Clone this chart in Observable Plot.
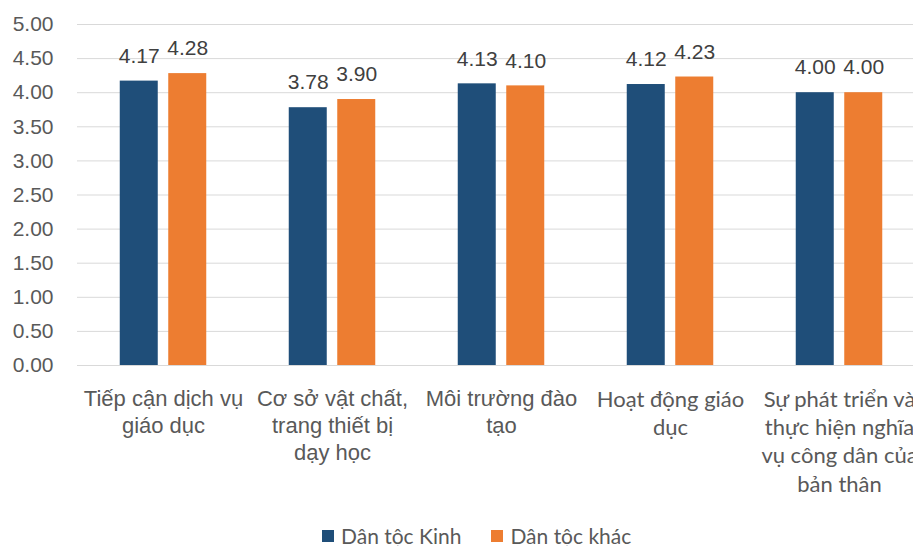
<!DOCTYPE html>
<html>
<head>
<meta charset="utf-8">
<script src="https://cdn.jsdelivr.net/npm/d3@7"></script>
<script src="https://cdn.jsdelivr.net/npm/@observablehq/plot@0.6"></script>
<style>
  html, body { margin: 0; padding: 0; background: white; overflow: hidden; }
  #chart { position: relative; width: 913px; height: 546px; }
  .legend { position: absolute; left: 322px; top: 526px; display: flex; align-items: center;
            font-family: Lato, sans-serif; font-size: 21px; line-height: 20px; color: #595959; }
  .legend .item { display: flex; align-items: center; margin-right: 30px; }
  .legend .sw { width: 12px; height: 12px; margin-right: 7px; }
  .legend .lbl { display: block; height: 20px; line-height: 20px; }
</style>
</head>
<body>
<div id="chart"></div>
<script>
const categories = [
  "Tiếp cận dịch vụ giáo dục",
  "Cơ sở vật chất, trang thiết bị dạy học",
  "Môi trường đào tạo",
  "Hoạt động giáo dục",
  "Sự phát triển và thực hiện nghĩa vụ công dân của bản thân"
];
const tickLabels = [
  "Tiếp cận dịch vụ\ngiáo dục",
  "Cơ sở vật chất,\ntrang thiết bị\ndạy học",
  "Môi trường đào\ntạo",
  "Hoạt động giáo\ndục",
  "Sự phát triển và\nthực hiện nghĩa\nvụ công dân của\nbản thân"
];
const seriesNames = ["Dân tộc Kinh", "Dân tộc khác"];
const kinh = [4.17, 3.78, 4.13, 4.12, 4.00];
const khac = [4.28, 3.90, 4.10, 4.23, 4.00];
const yTicks = [0, 0.5, 1, 1.5, 2, 2.5, 3, 3.5, 4, 4.5, 5];
const colors = ["#1f4e79", "#ed7d31"];

const dataKinh = categories.map((c, i) => ({cat: c, value: kinh[i]}));
const dataKhac = categories.map((c, i) => ({cat: c, value: khac[i]}));
const labelOf = new Map(categories.map((c, i) => [c, tickLabels[i]]));

const H = 522;
const off = 24.25;

const plot = Plot.plot({
  width: 913,
  height: H,
  marginLeft: 77,
  marginRight: 0,
  marginTop: 24,
  marginBottom: H - 365,
  x: {domain: categories, range: [76.5, 926], paddingInner: 1 - 38.5 / 170, paddingOuter: (1 - 38.5 / 170) / 2},
  y: {domain: [0, 5]},
  style: {fontFamily: "'Liberation Sans', Arial, sans-serif", background: "white", overflow: "visible"},
  marks: [
    Plot.gridY(yTicks, {stroke: "#d9d9d9", strokeOpacity: 1, strokeWidth: 1}),
    Plot.axisY(yTicks, {tickSize: 0, tickPadding: 24, tickFormat: d3.format(".2f"), fontSize: 21, color: "#595959", label: null}),
    Plot.barY(dataKinh, {x: "cat", y: "value", fill: colors[0], dx: -off}),
    Plot.barY(dataKhac, {x: "cat", y: "value", fill: colors[1], dx: off}),
    Plot.text(dataKinh, {x: "cat", y: "value", text: d => d3.format(".2f")(d.value), dx: -off, dy: -25, lineAnchor: "middle", fontSize: 21, fill: "#404040"}),
    Plot.text(dataKhac, {x: "cat", y: "value", text: d => d3.format(".2f")(d.value), dx: off, dy: -25, lineAnchor: "middle", fontSize: 21, fill: "#404040"}),
    Plot.axisX(categories.slice(0, 3), {tickSize: 0, tickPadding: 21, tickFormat: c => labelOf.get(c), fontSize: 22, lineHeight: 1.23, color: "#595959", label: null}),
    Plot.axisX(categories.slice(3), {tickSize: 0, tickPadding: 21, tickFormat: c => labelOf.get(c), fontSize: 22, lineHeight: 1.29, color: "#595959", fontFamily: "Lato, sans-serif", label: null})
  ]
});

const chart = document.getElementById("chart");
chart.appendChild(plot);

const legend = document.createElement("div");
legend.className = "legend";
seriesNames.forEach((name, i) => {
  const item = document.createElement("div");
  item.className = "item";
  const sw = document.createElement("div");
  sw.className = "sw";
  sw.style.background = colors[i];
  const t = document.createElement("span");
  t.className = "lbl";
  t.textContent = name;
  item.appendChild(sw);
  item.appendChild(t);
  legend.appendChild(item);
});
chart.appendChild(legend);
</script>
</body>
</html>
